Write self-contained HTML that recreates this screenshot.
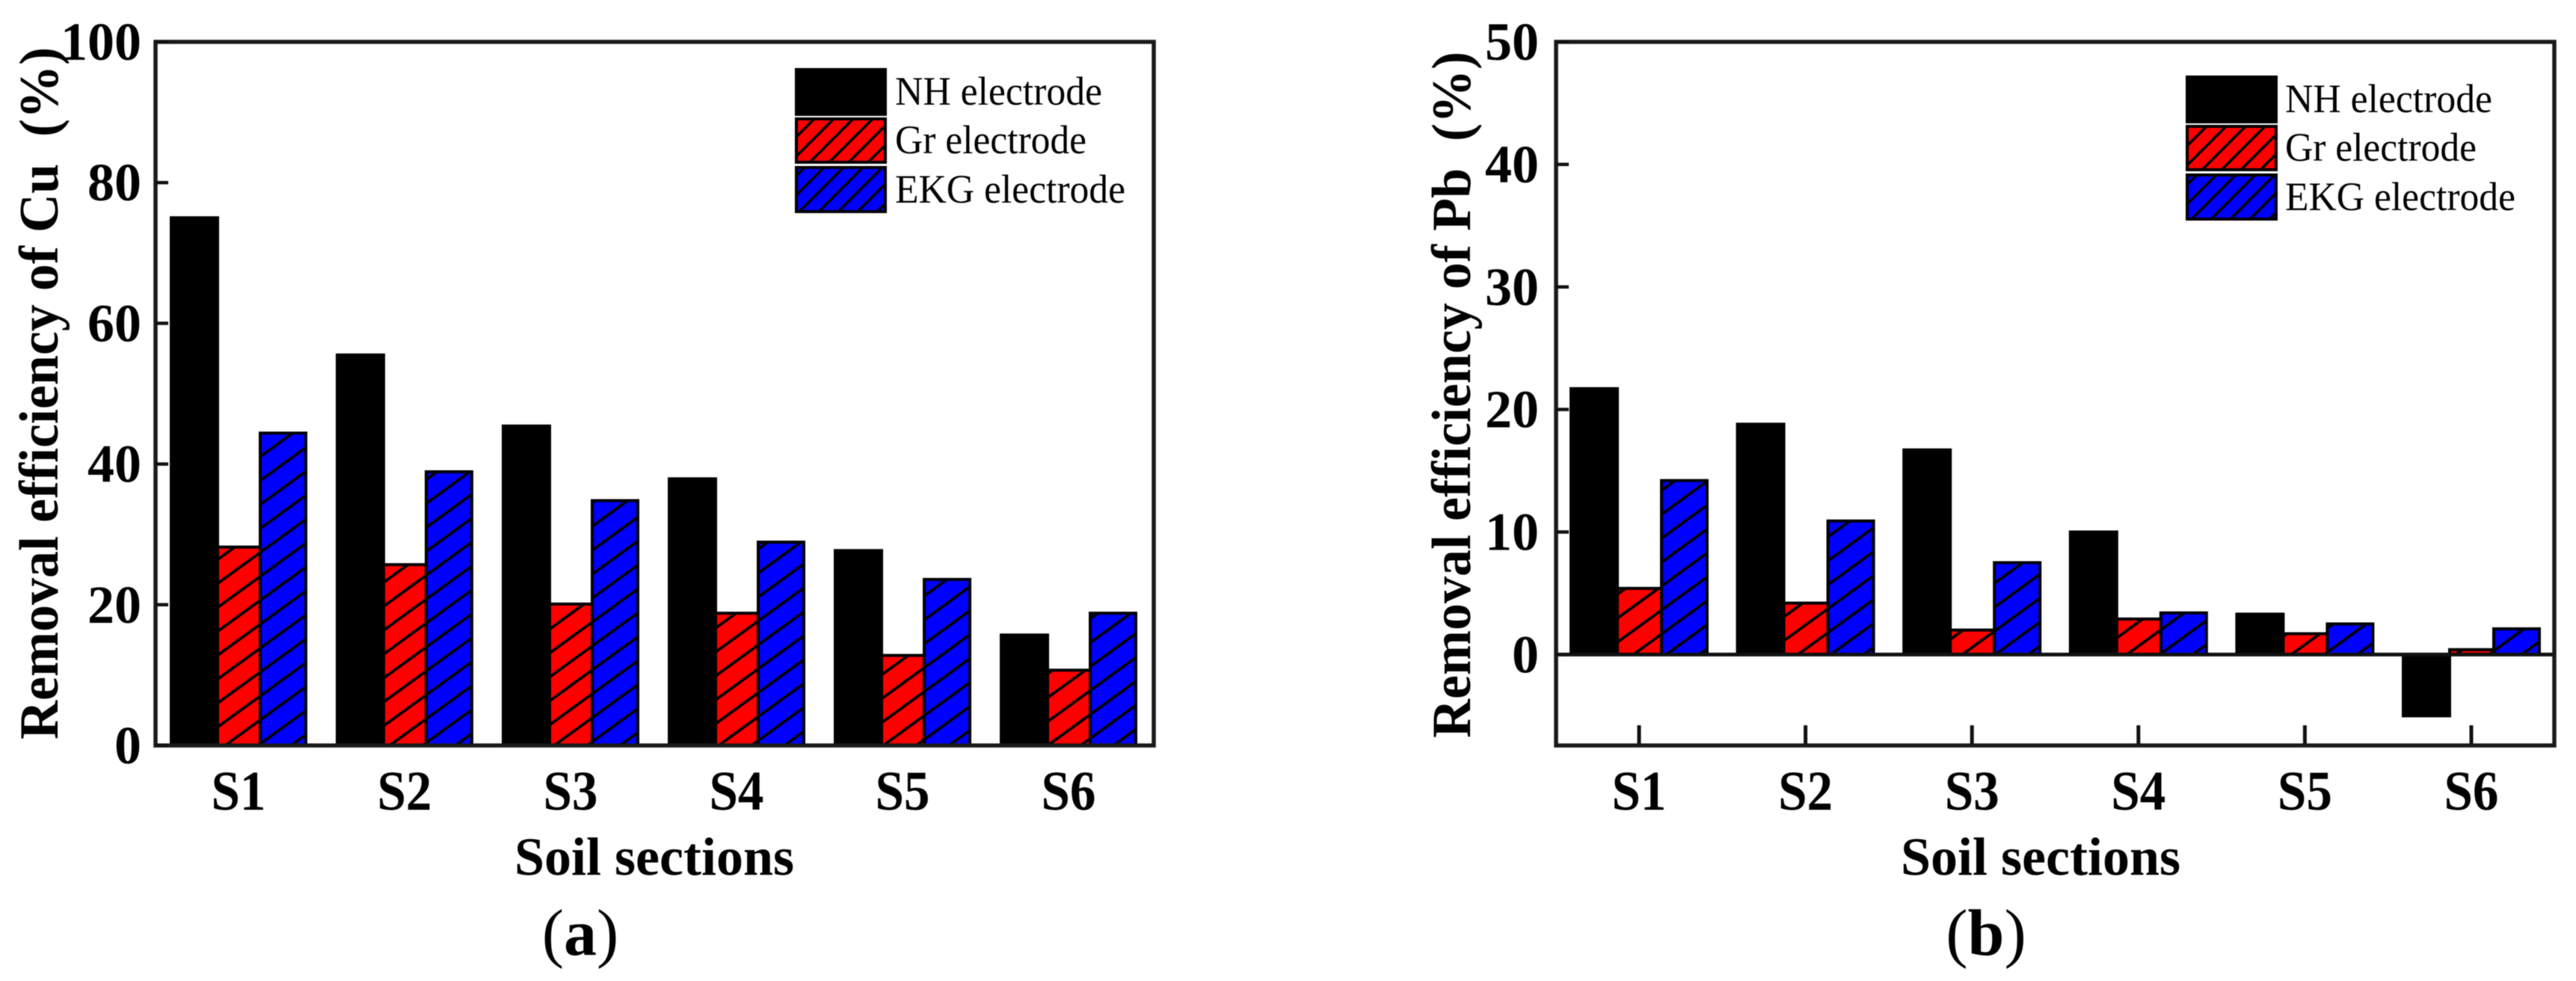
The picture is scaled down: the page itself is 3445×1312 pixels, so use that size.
<!DOCTYPE html>
<html lang="en">
<head>
<meta charset="utf-8">
<title>Removal efficiency of Cu and Pb by soil section</title>
<style>
  html, body { margin: 0; padding: 0; background: #fff; }
  body { width: 3445px; height: 1312px; overflow: hidden; }
  svg { display: block; filter: blur(0.6px); }
  text { font-family: "Liberation Serif", "Times New Roman", serif; fill: #000; white-space: pre; }
  .bold { font-weight: 700; }
</style>
</head>
<body>
<svg id="figure" xmlns="http://www.w3.org/2000/svg" width="3445" height="1312" viewBox="0 0 3445 1312">
  <defs>
    <pattern id="hatch-red" patternUnits="userSpaceOnUse" width="44" height="32">
      <rect width="44" height="32" fill="#ff0000"></rect>
      <path d="M-4.4,3.2 L4.4,-3.2 M0,32 L44,0 M39.6,35.2 L48.4,28.8" stroke="#000" stroke-width="3.8" fill="none"></path>
    </pattern>
    <pattern id="hatch-blue" patternUnits="userSpaceOnUse" width="44" height="32">
      <rect width="44" height="32" fill="#0000ff"></rect>
      <path d="M-4.4,3.2 L4.4,-3.2 M0,32 L44,0 M39.6,35.2 L48.4,28.8" stroke="#000" stroke-width="3.8" fill="none"></path>
    </pattern>
    <pattern id="legend-hatch-red" patternUnits="userSpaceOnUse" width="26" height="26">
      <rect width="26" height="26" fill="#ff0000"></rect>
      <path d="M-3,3 L3,-3 M0,26 L26,0 M23,29 L29,23" stroke="#000" stroke-width="3.6" fill="none"></path>
    </pattern>
    <pattern id="legend-hatch-blue" patternUnits="userSpaceOnUse" width="26" height="26">
      <rect width="26" height="26" fill="#0000ff"></rect>
      <path d="M-3,3 L3,-3 M0,26 L26,0 M23,29 L29,23" stroke="#000" stroke-width="3.6" fill="none"></path>
    </pattern>
  </defs>
</svg>
<script>
const categories = ['S1', 'S2', 'S3', 'S4', 'S5', 'S6'];
const seriesNames = ['NH electrode', 'Gr electrode', 'EKG electrode'];
const cuNH = [75.0, 55.5, 45.4, 37.9, 27.7, 15.7];
const cuGr = [28.2, 25.7, 20.1, 18.8, 12.8, 10.7];
const cuEKG = [44.4, 38.9, 34.8, 28.9, 23.6, 18.8];
const pbNH = [21.7, 18.8, 16.7, 10.0, 3.3, -5.0];
const pbGr = [5.4, 4.2, 2.0, 2.9, 1.7, 0.4];
const pbEKG = [14.2, 10.9, 7.5, 3.4, 2.5, 2.1];
const cuTicks = [0, 20, 40, 60, 80, 100];
const pbTicks = [0, 10, 20, 30, 40, 50];

const svg = document.getElementById('figure');
const NS = 'http://www.w3.org/2000/svg';
const seriesFills = ['#000000', 'url(#hatch-red)', 'url(#hatch-blue)'];
const legendFills = ['#000000', 'url(#legend-hatch-red)', 'url(#legend-hatch-blue)'];
const seriesKeys = ['nh', 'gr', 'ekg'];

function make(tag, attrs, parent) {
  const el = document.createElementNS(NS, tag);
  for (const k in attrs) el.setAttribute(k, attrs[k]);
  (parent || svg).appendChild(el);
  return el;
}

function drawPanel(p) {
  const y = v => p.y0 + (p.yMax - v) * (p.yBottom - p.y0) / (p.yMax - p.yMin);
  const bandX = i => p.bandStart + i * p.bandStep;
  const zeroY = y(0);

  const group = make('g', {});
  
  

  // x ticks (behind bars)
  categories.forEach((c, i) => {
    const tx = bandX(i) + p.bandCenter;
    const tick = make('line', { x1: tx, x2: tx, y1: p.yBottom - 27, y2: p.yBottom, stroke: '#111', 'stroke-width': 5 }, group);
    
    
  });

  // bars
  p.series.forEach((vals, s) => {
    vals.forEach((v, i) => {
      let bx = bandX(i);
      for (let k = 0; k < s; k++) bx += p.barWidths[k];
      const top = Math.min(y(v), zeroY);
      const h = Math.abs(y(v) - zeroY);
      const bar = make('rect', {
        x: bx, y: top, width: p.barWidths[s], height: h,
        fill: seriesFills[s], stroke: '#000', 'stroke-width': 4
      }, group);
      
      
    });
  });

  // zero line when the axis extends below zero
  if (p.yMin < 0) {
    const zero = make('line', { x1: p.left, x2: p.right, y1: zeroY, y2: zeroY, stroke: '#111', 'stroke-width': 5 }, group);
    
    
  }

  // frame
  const frame = make('rect', {
    x: p.left, y: p.y0, width: p.right - p.left, height: p.yBottom - p.y0,
    fill: 'none', stroke: '#1a1a1a', 'stroke-width': 5.5
  }, group);
  
  

  // y ticks and labels
  p.ticks.forEach(v => {
    const ty = y(v);
    const tick = make('line', { x1: p.left, x2: p.left + 17, y1: ty, y2: ty, stroke: '#111', 'stroke-width': 4.5 }, group);
    
    
    const lab = make('text', { x: p.tickLabelRight, y: ty + 24, 'text-anchor': 'end', 'font-size': 72, class: 'bold' }, group);
    lab.textContent = String(v);
    
    
  });

  // x labels
  categories.forEach((c, i) => {
    const lab = make('text', {
      x: bandX(i) + p.bandCenter, y: 1083, 'text-anchor': 'middle', 'font-size': 75, class: 'bold',
      textLength: 73, lengthAdjust: 'spacingAndGlyphs'
    }, group);
    lab.textContent = c;
    
    
  });

  // axis titles
  const xTitle = make('text', { x: p.xTitleX, y: 1170, 'text-anchor': 'middle', 'font-size': 72, class: 'bold' }, group);
  xTitle.textContent = 'Soil sections';
  
  

  const yTitle = make('text', {
    x: 0, y: 0, 'font-size': 74, class: 'bold',
    transform: 'translate(' + p.yTitleX + ',' + p.yTitleBottom + ') rotate(-90)',
    textLength: p.yTitleLen, lengthAdjust: 'spacingAndGlyphs'
  }, group);
  yTitle.textContent = p.yTitle;
  
  

  // legend
  const legend = make('g', {}, group);
  
  
  const swatchTops = [0, 66, 131];
  const swatchH = [60, 58, 59];
  const textBase = [47, 112, 178];
  const textLens = [277, 256, 308];
  seriesNames.forEach((name, s) => {
    const sw = make('rect', {
      x: p.legendX, y: p.legendY + swatchTops[s], width: 119, height: swatchH[s],
      fill: legendFills[s], stroke: '#000', 'stroke-width': 4
    }, legend);
    
    
    const t = make('text', {
      x: p.legendTextX, y: p.legendY + textBase[s], 'font-size': 54,
      textLength: textLens[s], lengthAdjust: 'spacingAndGlyphs', fill: '#111'
    }, legend);
    t.textContent = name;
    
    
  });

  // caption
  const cap = make('text', { x: p.captionX, y: 1277, 'text-anchor': 'middle', 'font-size': 88 }, group);
  const c1 = make('tspan', {}, cap);
  c1.textContent = '(';
  const c2 = make('tspan', { class: 'bold' }, cap);
  c2.textContent = p.captionLetter;
  const c3 = make('tspan', {}, cap);
  c3.textContent = ')';
  
  
}

drawPanel({
  key: 'cu', series: [cuNH, cuGr, cuEKG], ticks: cuTicks,
  yMin: 0, yMax: 100, y0: 56, yBottom: 997, left: 208, right: 1543,
  bandStart: 229, bandStep: 222, bandCenter: 90, barWidths: [62, 57, 61],
  tickLabelRight: 189, xTitleX: 875,
  yTitle: 'Removal efficiency of Cu  (%)', yTitleX: 77, yTitleBottom: 989, yTitleLen: 926,
  legendX: 1065, legendY: 93, legendTextX: 1197,
  captionX: 776, captionLetter: 'a'
});

drawPanel({
  key: 'pb', series: [pbNH, pbGr, pbEKG], ticks: pbTicks,
  yMin: -7.42, yMax: 50, y0: 56, yBottom: 997, left: 2081, right: 3416,
  bandStart: 2101, bandStep: 222.6, bandCenter: 91, barWidths: [62, 59, 61],
  tickLabelRight: 2058, xTitleX: 2729,
  yTitle: 'Removal efficiency of Pb  (%)', yTitleX: 1966, yTitleBottom: 987, yTitleLen: 918,
  legendX: 2925, legendY: 103, legendTextX: 3056,
  captionX: 2656, captionLetter: 'b'
});
</script>
</body>
</html>
